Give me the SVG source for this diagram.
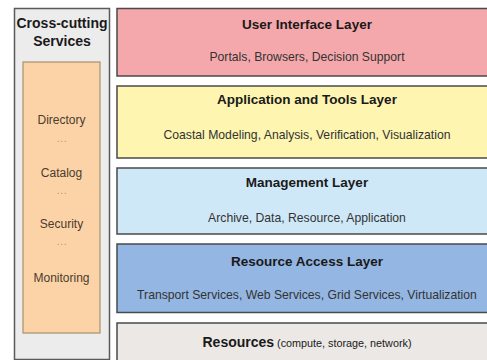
<svg xmlns="http://www.w3.org/2000/svg" width="487" height="360" viewBox="0 0 487 360">
<style>
.layer{stroke:#4a4a4a;stroke-width:1.5}
.t{font-family:"Liberation Sans",Arial,sans-serif;font-weight:bold;font-size:13.5px;fill:#1a1a1a;text-anchor:middle}
.s{font-family:"Liberation Sans",Arial,sans-serif;font-size:12.2px;fill:#333;text-anchor:middle}
.i{font-family:"Liberation Sans",Arial,sans-serif;font-size:12px;fill:#4a3c2e;text-anchor:middle}
.d{font-family:"Liberation Sans",Arial,sans-serif;font-size:10px;letter-spacing:0.8px;fill:#a8947e;text-anchor:middle}
</style>
<rect width="487" height="360" fill="#ffffff"/>
<g id="cross-cutting">
<rect x="14.5" y="8.5" width="95" height="351" fill="#ececec" stroke="#5a5a5a" stroke-width="1.5"/>
<text class="t" x="62" y="28" style="font-size:14px">Cross-cutting</text>
<text class="t" x="62" y="46" style="font-size:14px">Services</text>
<rect x="23" y="62" width="77" height="271" fill="#fcd3a6" stroke="#a8906e" stroke-width="1.2"/>
<text class="i" x="61.5" y="124">Directory</text>
<text class="d" x="62" y="142">...</text>
<text class="i" x="61.5" y="177">Catalog</text>
<text class="d" x="62" y="194">...</text>
<text class="i" x="61.5" y="228">Security</text>
<text class="d" x="62" y="245">...</text>
<text class="i" x="61.5" y="282">Monitoring</text>
</g>
<g id="user-interface">
<rect class="layer" x="117" y="8.5" width="381" height="67.5" fill="#f5a8ab"/>
<text class="t" x="307" y="28.5">User Interface Layer</text>
<text class="s" x="307" y="60.5">Portals, Browsers, Decision Support</text>
</g>
<g id="application-tools">
<rect class="layer" x="117" y="86" width="381" height="72" fill="#fdf5b0"/>
<text class="t" x="307" y="103.5">Application and Tools Layer</text>
<text class="s" x="307" y="139">Coastal Modeling, Analysis, Verification, Visualization</text>
</g>
<g id="management">
<rect class="layer" x="117" y="168" width="381" height="66" fill="#cfe8f8"/>
<text class="t" x="307" y="187">Management Layer</text>
<text class="s" x="307" y="222">Archive, Data, Resource, Application</text>
</g>
<g id="resource-access">
<rect class="layer" x="117" y="244" width="381" height="68.5" fill="#94b6e2"/>
<text class="t" x="307" y="266">Resource Access Layer</text>
<text class="s" x="307" y="299">Transport Services, Web Services, Grid Services, Virtualization</text>
</g>
<g id="resources">
<rect class="layer" x="117" y="323" width="381" height="45" fill="#ebe8e5"/>
<text class="t" x="307" y="347" style="font-size:14px"><tspan>Resources</tspan><tspan style="font-weight:normal;font-size:10.8px"> (compute, storage, network)</tspan></text>
</g>
<g id="connectors"/>
</svg>
